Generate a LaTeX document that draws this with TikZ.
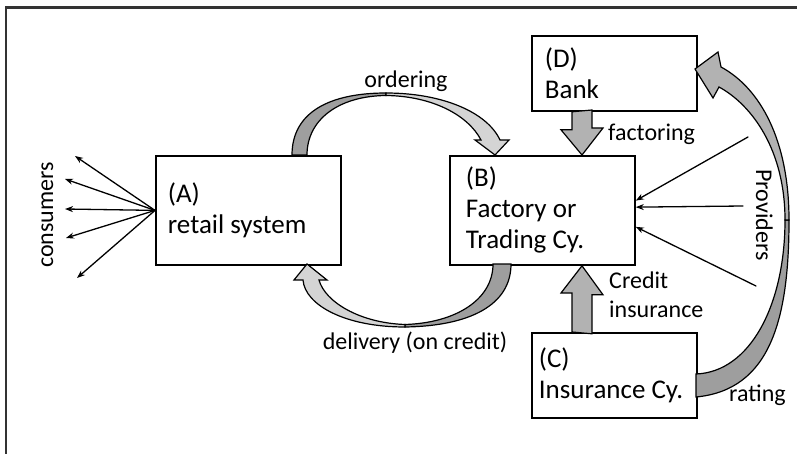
\documentclass[tikz,border=0pt]{standalone}
\usepackage{fontspec}
\setmainfont{Carlito}
\usepackage{tkz-euclide}
\usetikzlibrary{calc, arrows.meta}
\definecolor{fatdark}{gray}{0.62}
\definecolor{fatmid}{gray}{0.70}
\definecolor{fatlight}{gray}{0.83}
\tikzset{
    box/.style = {draw, line width=1.8pt, anchor=north west, align=flush left, inner ysep=0pt,
        minimum height=#1, font=\fontsize{27}{31}\selectfont},
    lbl/.style = {font=\fontsize{24}{29}\selectfont, inner sep=0pt},
    fat/.style = {draw, line width=1.2pt, line join=miter, fill=#1}
}

\begin{document}
\begin{tikzpicture}[x=1pt, y=-1pt]
    \useasboundingbox (0,0) rectangle (797,454);
    \draw[line width=2.4pt, black!80] (6,454) -- (6,7.5) -- (797,7.5);

    \node[box=109, inner xsep=12pt, text width=161pt] (A) at (155,155) {(A)\\retail system};
    \node[box=109, inner xsep=16pt, text width=153pt] (B) at (449,155) {(B)\\Factory or\\Trading Cy.};
    \node[box=75, inner xsep=13pt, text width=139pt] (D) at (531,35) {(D)\\Bank};
    \node[box=85, inner xsep=7pt, text width=151pt] (C) at (531,332) {(C)\\Insurance~Cy.};

    \coordinate (Aw) at (A.west);
    \tkzDefPoints{75/156/c1, 65/179/c2, 65/209/c3, 66/238/c4, 77/278/c5}
    \tkzDrawSegments[->, >={Stealth[length=8pt, width=6pt]}, line width=1.3pt](Aw,c1 Aw,c2 Aw,c3 Aw,c4 Aw,c5)

    \coordinate (B1) at (B.6);
    \coordinate (B2) at (B.2);
    \coordinate (B3) at (B.-10);
    \tkzDefPoints{748/137/p1, 743/206/p2, 756/286/p3}
    \tkzDrawSegments[->, >={Stealth[length=8pt, width=6pt]}, line width=1.3pt](p1,B1 p2,B2 p3,B3)

    \coordinate (fx) at (582,0);
    \draw[fat=fatmid] (D.south -| fx) ++(-10,0) -- ++(0,18) -- ++(-11,0) -- (B.north -| fx)
        -- ++(21,-27) -- ++(-11,0) -- ++(0,-18) -- cycle;
    \draw[fat=fatmid] (C.north -| fx) ++(-10,0) -- ++(0,-39) -- ++(-11,0) -- (B.south -| fx)
        -- ++(21,29) -- ++(-11,0) -- ++(0,39) -- cycle;

    \draw[fat=fatdark] (292,155) .. controls (292,112) and (330,93) .. (386,93) -- (386,95.5)
        .. controls (338,96) and (307,120) .. (307,155) -- cycle;
    \draw[fat=fatlight] (386,93) .. controls (442,93) and (487,112) .. (500,140) -- (509,140)
        -- (495,155) -- (475,140) -- (481,140) .. controls (468,115) and (432,96) .. (386,95.5) -- cycle;

    \draw[fat=fatdark] (511,264) .. controls (511,305) and (470,326) .. (405,327) -- (405,324.5)
        .. controls (455,323) and (493,300) .. (493,264) -- cycle;
    \draw[fat=fatlight] (405,327) .. controls (345,327) and (305,305) .. (303,280) -- (294,280)
        -- (307,264) -- (327,280) -- (319,280) .. controls (325,302) and (360,323) .. (405,324.5) -- cycle;

    \draw[fat=fatdark] (696,397) .. controls (770,390) and (789,320) .. (789,220) -- (785,220)
        .. controls (785,305) and (750,372) .. (696,374) -- cycle;
    \draw[fat=fatmid] (789,220) .. controls (789,140) and (760,88) .. (721,67) -- (718,52)
        -- (695,69) -- (713,98) -- (719,87) .. controls (752,105) and (785,150) .. (785,220) -- cycle;

    \node[lbl, anchor=base] (ord) at (406,88) {ordering};
    \node[lbl, anchor=base] (del) at (415,349) {delivery (on credit)};
    \node[lbl, anchor=base west] (fac) at (608,141) {factoring};
    \node[lbl, anchor=north west, align=flush left] (cre) at (609,272) {Credit\\insurance};
    \node[lbl, anchor=base west] (rat) at (729,401) {rating};
    \node[lbl, rotate=90, anchor=base] (cons) at (53,215) {consumers};
    \node[lbl, rotate=-90, anchor=base] (prov) at (756,215) {Providers};
\end{tikzpicture}
\end{document}
